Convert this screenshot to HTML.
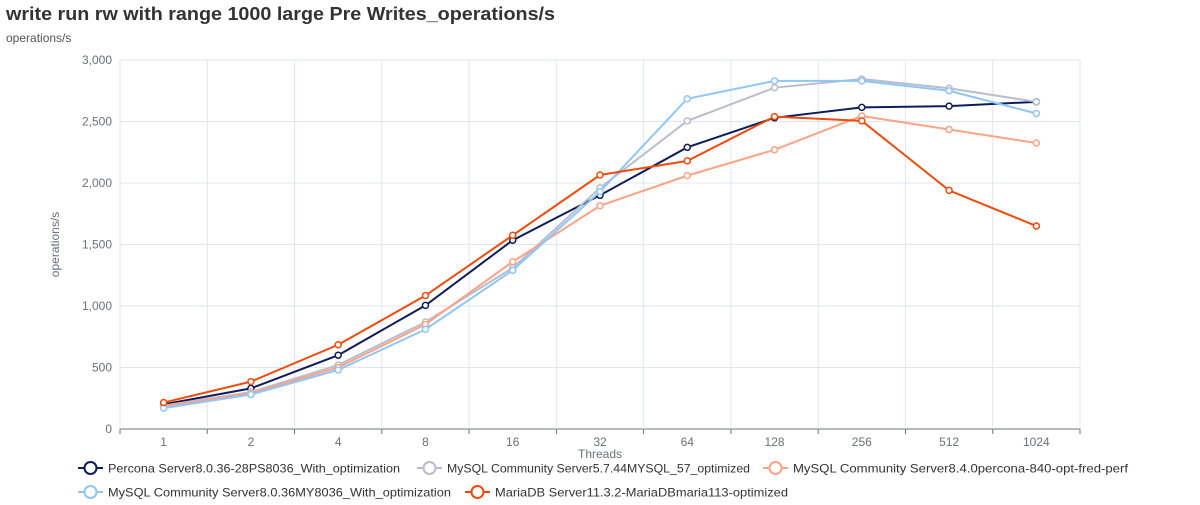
<!DOCTYPE html>
<html><head><meta charset="utf-8"><style>
body{margin:0;width:1200px;height:500px;background:#fff;font-family:"Liberation Sans",sans-serif;overflow:hidden}
</style></head><body>
<svg id="c" width="1200" height="500" xmlns="http://www.w3.org/2000/svg">
<text x="6" y="20" font-size="18" font-weight="bold" fill="#333" textLength="549" lengthAdjust="spacingAndGlyphs">write run rw with range 1000 large Pre Writes_operations/s</text>
<text x="6" y="42" font-size="12" fill="#555">operations/s</text>
<g id="grid"></g><g id="axes"></g><g id="series"></g><g id="legend"></g>
</svg>
<script>
const categories=["1","2","4","8","16","32","64","128","256","512","1024"];
const yTicks=[0,500,1000,1500,2000,2500,3000];
const seriesNames=["Percona Server8.0.36-28PS8036_With_optimization","MySQL Community Server5.7.44MYSQL_57_optimized","MySQL Community Server8.4.0percona-840-opt-fred-perf","MySQL Community Server8.0.36MY8036_With_optimization","MariaDB Server11.3.2-MariaDBmaria113-optimized"];
const seriesColors=["#0f1c5a","#b9bdcc","#fca285","#8fc6f8","#f24a0a"];
const percona=[200,330,600,1005,1535,1900,2290,2530,2615,2625,2660];
const mysql57=[190,300,520,870,1310,1960,2505,2775,2845,2770,2660];
const mysql84=[185,290,500,850,1360,1815,2060,2270,2545,2435,2325];
const mysql80=[170,280,480,810,1290,1930,2685,2830,2830,2750,2565];
const mariadb=[215,385,685,1085,1575,2065,2180,2540,2505,1940,1650];
const seriesData=[percona,mysql57,mysql84,mysql80,mariadb];
const NS="http://www.w3.org/2000/svg";
const L=120,R=1080,T=60,B=429,yMax=3000;
const band=(R-L)/categories.length;
const xPos=i=>L+band*(i+0.5);
const yPos=v=>B-(v/yMax)*(B-T);
function mk(tag,attrs,parent){const e=document.createElementNS(NS,tag);for(const k in attrs)e.setAttribute(k,attrs[k]);document.getElementById(parent).appendChild(e);return e;}
yTicks.forEach(t=>{
 const g=mk("line",{x1:L,x2:R,y1:yPos(t),y2:yPos(t),stroke:t===0?"#6e7079":"#e0e6f1","stroke-width":1},"grid");
 
 
 const tx=mk("text",{x:L-8,y:yPos(t)+4,"text-anchor":"end","font-size":12,fill:"#6e7079"},"axes");
 tx.textContent=t.toLocaleString("en-US");
 
 
});
for(let i=0;i<=categories.length;i++){
 const x=L+band*i;
 const g=mk("line",{x1:x,x2:x,y1:T,y2:B,stroke:"#e0e6f1"},"grid");
 
 
 const tk=mk("line",{x1:x,x2:x,y1:B,y2:B+5,stroke:"#6e7079"},"axes");
 
 
}
categories.forEach((c,i)=>{
 const tx=mk("text",{x:xPos(i),y:B+17,"text-anchor":"middle","font-size":12,fill:"#6e7079"},"axes");
 tx.textContent=c;
 
 
});
const xt=mk("text",{x:(L+R)/2,y:B+29,"text-anchor":"middle","font-size":12,fill:"#6e7079"},"axes");
xt.textContent="Threads";


const yt=mk("text",{x:0,y:0,"text-anchor":"middle","font-size":12,fill:"#6e7079",transform:`translate(59,${(T+B)/2}) rotate(-90)`},"axes");
yt.textContent="operations/s";


seriesData.forEach((d,s)=>{
 const p=mk("polyline",{points:d.map((v,i)=>xPos(i)+","+yPos(v)).join(" "),fill:"none",stroke:seriesColors[s],"stroke-width":2},"series");
 
 
 d.forEach((v,i)=>{
  const c=mk("circle",{cx:xPos(i),cy:yPos(v),r:3,fill:"#fff",stroke:seriesColors[s],"stroke-width":1.5},"series");
  
  
 });
});
const legPos=[[78,468],[417,468],[763,468],[78,492],[465,492]];
const legWidths=[292,303,335,343,293];
seriesNames.forEach((n,s)=>{
 const [x,y]=legPos[s];
 const ln=mk("line",{x1:x,x2:x+25,y1:y,y2:y,stroke:seriesColors[s],"stroke-width":2},"legend");
 
 
 const c=mk("circle",{cx:x+12.5,cy:y,r:6,fill:"#fff",stroke:seriesColors[s],"stroke-width":2},"legend");
 
 
 const t=mk("text",{x:x+30,y:y+4.5,"font-size":12,fill:"#333",textLength:legWidths[s],lengthAdjust:"spacingAndGlyphs"},"legend");
 t.textContent=n;
 
 
});
</script>
</body></html>
